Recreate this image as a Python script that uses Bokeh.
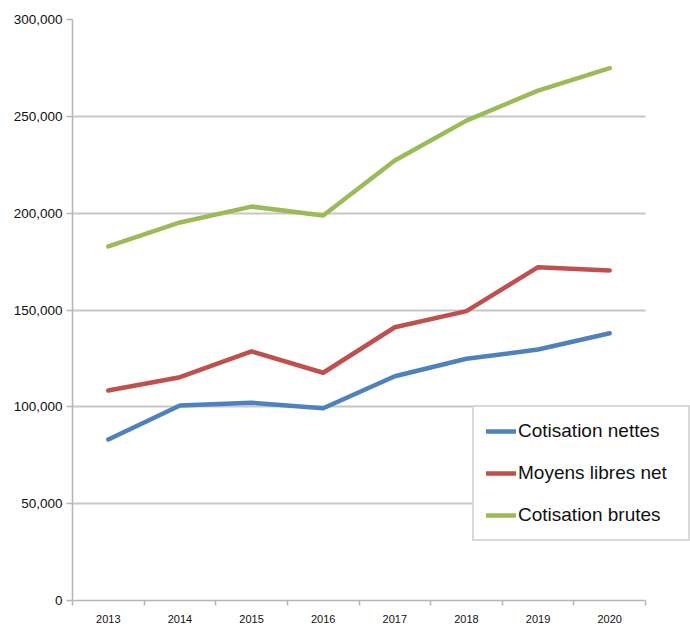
from bokeh.plotting import figure
from bokeh.models import Range1d, FixedTicker, NumeralTickFormatter, Legend, LegendItem
from bokeh.embed import file_html
from bokeh.resources import INLINE

years = [2013, 2014, 2015, 2016, 2017, 2018, 2019, 2020]
cotisation_nettes = [83100, 100700, 102100, 99300, 115800, 124800, 129600, 138000]
moyens_libres_net = [108400, 115300, 128600, 117600, 141100, 149400, 172100, 170400]
cotisation_brutes = [182800, 195200, 203400, 198800, 227200, 247800, 263300, 274900]
y_ticks = [0, 50000, 100000, 150000, 200000, 250000, 300000]

series = [
    ("Cotisation nettes", cotisation_nettes, "#4F81BD"),
    ("Moyens libres net", moyens_libres_net, "#C0504D"),
    ("Cotisation brutes", cotisation_brutes, "#9BBB59"),
]

x_start = years[0] - 0.5
x_end = years[-1] + 0.5
# frame extends past the last category so the legend can overhang the axis end
x_view_end = x_start + (x_end - x_start) * 618.0 / 573.0

p = figure(width=690, height=627, output_backend="svg", toolbar_location=None,
           x_range=Range1d(x_start, x_view_end),
           y_range=Range1d(y_ticks[0], y_ticks[-1]),
           min_border_left=72, min_border_right=0, min_border_top=19, min_border_bottom=27)
p.outline_line_color = None
p.background_fill_color = "white"

items = []
for name, vals, color in series:
    r = p.line(years, vals, line_color=color, line_width=4.5,
               line_join="round", line_cap="round")
    items.append(LegendItem(label=name, renderers=[r]))

# axes
p.xaxis.bounds = (x_start, x_end)
p.xaxis.ticker = FixedTicker(ticks=years,
                             minor_ticks=[y - 0.5 for y in years] + [x_end])
p.xaxis.major_tick_out = 0
p.xaxis.major_tick_in = 0
p.xaxis.minor_tick_out = 5
p.xaxis.minor_tick_in = 0
p.xaxis.minor_tick_line_color = "#b5b5b5"
p.xaxis.minor_tick_line_width = 1.5
p.xaxis.major_label_standoff = 9
p.xaxis.major_label_text_font_size = "11px"

p.yaxis.ticker = FixedTicker(ticks=y_ticks)
p.yaxis.formatter = NumeralTickFormatter(format="0,0")
p.yaxis.major_tick_out = 6
p.yaxis.major_tick_in = 0
p.yaxis.minor_tick_line_color = None
p.yaxis.major_tick_line_color = "#b5b5b5"
p.yaxis.major_tick_line_width = 1.5
p.yaxis.major_label_standoff = 4
p.yaxis.major_label_text_font_size = "13.5px"

for ax in (p.xaxis, p.yaxis):
    ax.axis_line_color = "#b5b5b5"
    ax.axis_line_width = 1.5
    ax.major_label_text_font = "Liberation Sans"
    ax.major_label_text_color = "#111111"

p.xgrid.grid_line_color = None
yg = p.ygrid[0]
yg.grid_line_color = "#c8c8c8"
yg.grid_line_width = 2
if "cross_bounds" in yg.properties():
    yg.cross_bounds = (x_start, x_end)

legend = Legend(items=items, location=(400, 59),
                label_text_font="Liberation Sans", label_text_font_size="19px",
                label_text_color="#111111",
                glyph_width=30, glyph_height=24, label_height=24, label_width=158,
                label_standoff=2, spacing=18, padding=12, margin=0,
                border_line_color="#d0d0d0", border_line_width=2, border_line_alpha=0.8,
                background_fill_color="white", background_fill_alpha=1.0)
p.add_layout(legend, "center")

open("out.html", "w").write(file_html(p, INLINE))
